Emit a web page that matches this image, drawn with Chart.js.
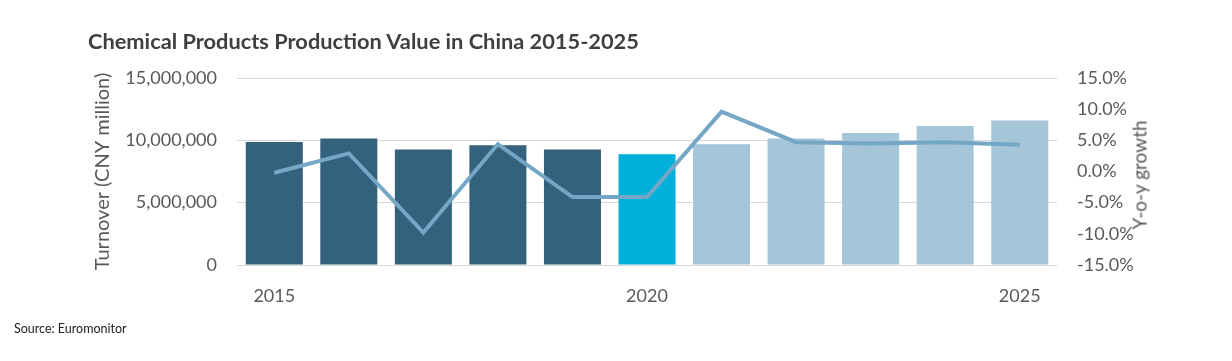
<!DOCTYPE html>
<html>
<head>
<meta charset="utf-8">
<script src="https://cdn.jsdelivr.net/npm/chart.js@4/dist/chart.umd.min.js"></script>
<style>
  html, body { margin: 0; padding: 0; background: #fff; }
  #wrap { position: relative; width: 1232px; height: 361px; overflow: hidden; }
  #title { position: absolute; left: 88px; top: 27px; font: bold 21.8px Lato, sans-serif; color: #3F3F3F; white-space: nowrap; }
  #source { position: absolute; left: 14px; top: 321px; font: 12.5px Lato, sans-serif; color: #222; white-space: nowrap; }
  #rtitle { position: absolute; left: 1139px; top: 175px; font: 19px Lato, sans-serif; color: #595959; white-space: nowrap;
            transform: translate(-50%, -50%) rotate(-90deg); }
  canvas { position: absolute; left: 0; top: 0; }
</style>
</head>
<body>
<div id="wrap">
  <canvas id="chart" width="1232" height="361"></canvas>
  <div id="title">Chemical Products Production Value in China 2015-2025</div>
  <div id="rtitle">Y-o-y growth</div>
  <div id="source">Source: Euromonitor</div>
</div>
<script>
// data
const years = ["2015", "2016", "2017", "2018", "2019", "2020", "2021", "2022", "2023", "2024", "2025"];
const turnover = [9860000, 10140000, 9260000, 9600000, 9260000, 8880000, 9680000, 10140000, 10580000, 11140000, 11600000];
const growth = [-0.2, 2.9, -9.8, 4.4, -4.1, -4.1, 9.6, 4.7, 4.5, 4.7, 4.3];
const shownYears = ["2015", "2020", "2025"];

// 2015-2019 history, 2020 highlight, 2021+ forecast
const barColors = years.map((y) => {
   if (y === "2020") return "#00B0DA";
   if (Number(y) > 2020) return "#A5C6D9";
   return "#34617B";
});

const tickFont = { family: "Lato, sans-serif", size: 18 };
const tickColor = "#595959";

new Chart(document.getElementById("chart"), {
   data: {
      labels: years,
      datasets: [
         {
            type: "line",
            label: "Y-o-y growth",
            data: growth,
            yAxisID: "y1",
            borderColor: "#74A7C6",
            borderWidth: 4,
            pointRadius: 0,
            tension: 0,
            order: 0,
         },
         {
            type: "bar",
            label: "Turnover",
            data: turnover,
            yAxisID: "y",
            backgroundColor: barColors,
            barPercentage: 0.765,
            categoryPercentage: 1,
            order: 1,
         },
      ],
   },
   options: {
      responsive: false,
      animation: false,
      layout: { padding: { top: 78, left: 0, right: 0, bottom: 0 } },
      plugins: { legend: { display: false }, tooltip: { enabled: false } },
      scales: {
         x: {
            grid: { display: false, drawTicks: false },
            border: { display: false },
            ticks: {
               autoSkip: false,
               maxRotation: 0,
               padding: 20,
               font: tickFont,
               color: tickColor,
               callback: function (value) {
                  const lab = this.getLabelForValue(value);
                  return shownYears.includes(lab) ? lab : "";
               },
            },
            afterFit: (scale) => { scale.height = 96; },
         },
         y: {
            position: "left",
            min: 0,
            max: 15000000,
            ticks: {
               stepSize: 5000000,
               padding: 20,
               font: tickFont,
               color: tickColor,
               callback: (v) => v.toLocaleString("en-US"),
            },
            grid: { color: "#D9D9D9", drawTicks: false },
            border: { display: false },
            title: {
               display: true,
               text: "Turnover (CNY million)",
               font: { family: "Lato, sans-serif", size: 20 },
               color: tickColor,
               padding: { top: 91, bottom: 0 },
            },
            afterFit: (scale) => { scale.width = 237; },
         },
         y1: {
            position: "right",
            min: -15,
            max: 15,
            ticks: {
               stepSize: 5,
               padding: 20,
               font: tickFont,
               color: tickColor,
               callback: (v) => v.toFixed(1) + "%",
            },
            grid: { display: false, drawTicks: false },
            border: { display: false },
            afterFit: (scale) => { scale.width = 1232 - 1057; },
         },
      },
   },
});
</script>
</body>
</html>
